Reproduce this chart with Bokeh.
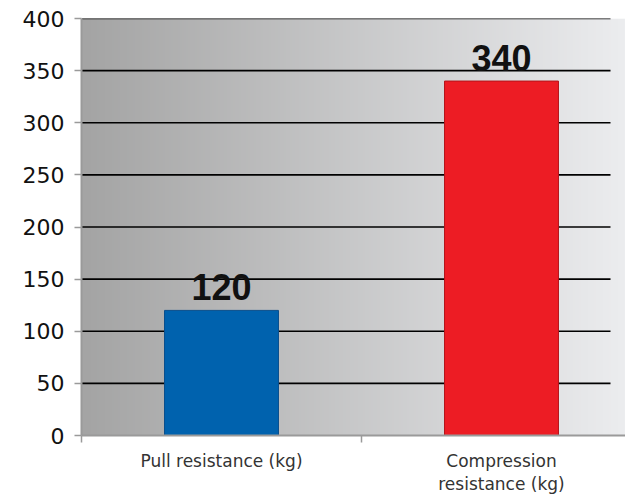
import numpy as np
from bokeh.plotting import figure
from bokeh.models import Range1d, FixedTicker, LinearAxis
from bokeh.embed import file_html
from bokeh.resources import INLINE
from bokeh.core.properties import value

# ---- data ----
categories = ["Pull resistance (kg)", "Compression resistance (kg)"]
label_line1 = ["Pull resistance (kg)", "Compression"]
label_line2 = ["", "resistance (kg)"]
values = [120, 340]
value_labels = ["120", "340"]
bar_colors = ["#0062AE", "#ED1C24"]
bar_line_colors = ["#0A4F8C", "#B3141A"]
y_ticks = [0, 50, 100, 150, 200, 250, 300, 350, 400]

# ---- layout constants (styling) ----
W, H = 625, 496
frame_left, frame_top = 81, 18
frame_w = W - frame_left
px_per_cat = 280.0
x_end = frame_w / px_per_cat
grid_end = 529 / px_per_cat

xs = [i + 0.5 for i in range(len(categories))]

p = figure(width=W, height=H, output_backend="svg", toolbar_location=None,
           x_range=Range1d(0, x_end), y_range=Range1d(0, 400),
           min_border_left=frame_left, min_border_right=0,
           min_border_top=frame_top, min_border_bottom=H - frame_top - 418,
           outline_line_color=None, border_fill_color="white",
           background_fill_color="white")
p.xgrid.visible = False
p.ygrid.visible = False

# gradient background of the plot area
n = 256
t = np.linspace(0, 1, n)
r = (164 + (236 - 164) * t).astype(np.uint32)
g = (164 + (237 - 164) * t).astype(np.uint32)
b = (164 + (239 - 164) * t).astype(np.uint32)
img = np.empty((1, n), dtype=np.uint32)
view = img.view(dtype=np.uint8).reshape((1, n, 4))
view[0, :, 0] = r
view[0, :, 1] = g
view[0, :, 2] = b
view[0, :, 3] = 255
p.image_rgba(image=[img], x=0, y=0, dw=x_end, dh=400)

# horizontal grid lines
gy = [v for v in y_ticks if v > 0]
p.segment(x0=[0] * len(gy), x1=[grid_end] * len(gy), y0=gy, y1=gy,
          line_color="black", line_width=1.6)

# bars
p.vbar(x=xs, top=values, width=0.407, bottom=0, fill_color=bar_colors,
       line_color=bar_line_colors, line_width=1)

# value labels
p.text(x=xs, y=values, text=value_labels, text_align="center",
       text_baseline="middle", y_offset=-23,
       text_font=value("Liberation Sans"), text_font_style="bold",
       text_font_size="36px", text_color="#111111")

# y axis
ya = p.yaxis[0]
ya.ticker = FixedTicker(ticks=y_ticks)
ya.axis_line_color = "#9a9a9a"
ya.axis_line_width = 2
ya.major_tick_line_color = "#9a9a9a"
ya.major_tick_line_width = 1.5
ya.major_tick_out = 7
ya.major_tick_in = 0
ya.minor_tick_line_color = None
ya.major_label_standoff = 10
ya.major_label_text_font = "DejaVu Sans"
ya.major_label_text_font_size = "22px"
ya.major_label_text_color = "#111111"

# x axis (first line of category labels)
xa = p.xaxis[0]
xa.ticker = FixedTicker(ticks=xs, minor_ticks=[0, 1])
xa.major_label_overrides = {x: s for x, s in zip(xs, label_line1)}
xa.axis_line_color = "#9a9a9a"
xa.axis_line_width = 2
xa.major_tick_line_color = None
xa.major_tick_out = 0
xa.major_tick_in = 0
xa.minor_tick_line_color = "#9a9a9a"
xa.minor_tick_line_width = 1.5
xa.minor_tick_out = 7
xa.minor_tick_in = 0
xa.major_label_standoff = 8
xa.major_label_text_font = "DejaVu Sans"
xa.major_label_text_font_size = "17px"
xa.major_label_text_color = "#333333"

# second line of category labels
xa2 = LinearAxis(ticker=FixedTicker(ticks=xs),
                 major_label_overrides={x: s for x, s in zip(xs, label_line2)})
xa2.axis_line_color = None
xa2.major_tick_line_color = None
xa2.minor_tick_line_color = None
xa2.major_tick_out = 0
xa2.major_tick_in = 0
xa2.major_label_standoff = 0
xa2.major_label_text_font = "DejaVu Sans"
xa2.major_label_text_font_size = "17px"
xa2.major_label_text_color = "#333333"
p.add_layout(xa2, "below")

open("out.html", "w").write(file_html(p, INLINE))
